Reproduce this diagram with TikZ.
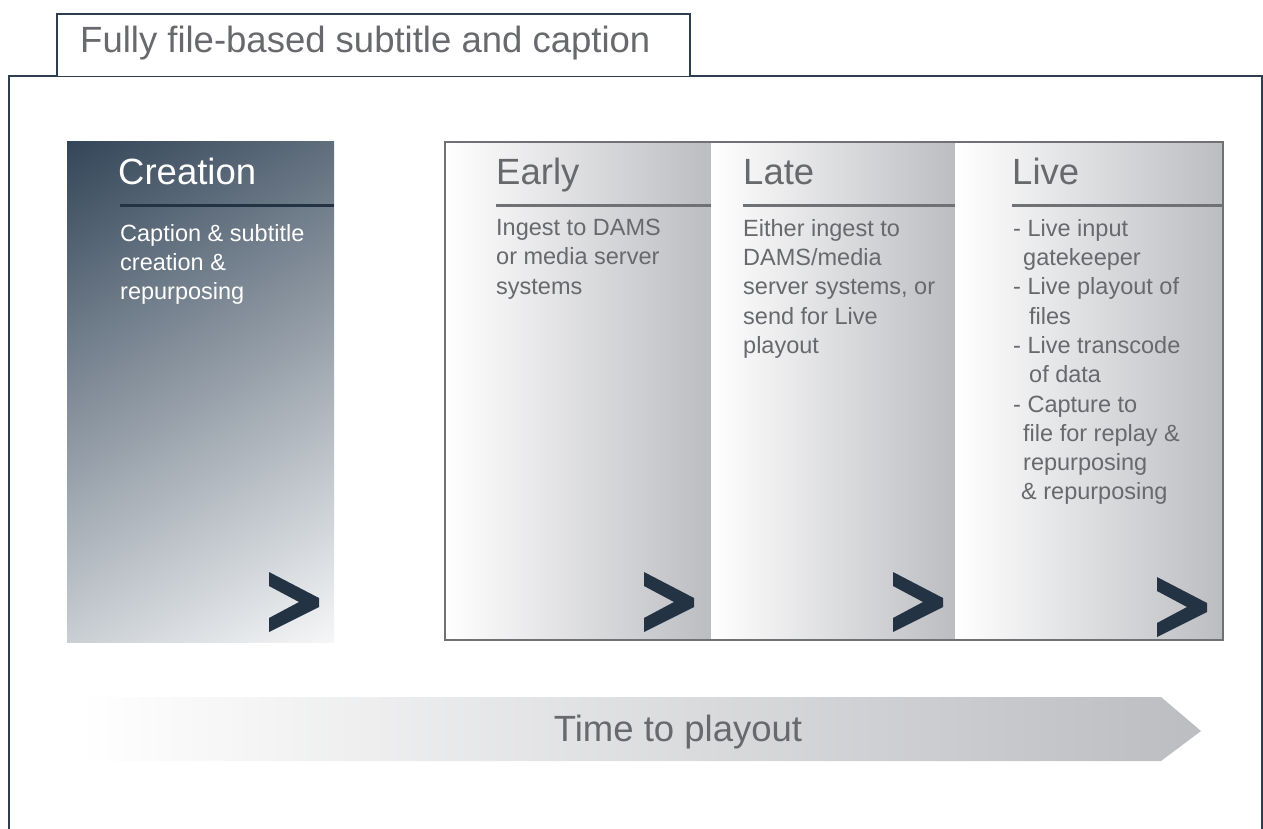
\documentclass[tikz,border=0pt]{standalone}
\usepackage{fontspec}
\setmainfont{Liberation Sans}
\usepackage{tikz}
\usetikzlibrary{shapes,arrows,positioning,calc,fit}
\usepackage{xcolor}

\definecolor{navy}{RGB}{36,51,68}
\definecolor{framecol}{RGB}{46,62,78}
\definecolor{textgray}{RGB}{104,105,109}
\definecolor{colgray}{RGB}{188,189,193}
\definecolor{rulegray}{RGB}{112,113,117}
\definecolor{creatop}{RGB}{52,70,89}
\definecolor{creamid}{RGB}{152,162,172}
\definecolor{creabot}{RGB}{245,246,247}

% chevron, top left corner at (#1,#2)
\newcommand{\chev}[2]{\fill[navy] (#1,#2) -- ++(50,26) -- ++(0,9) -- ++(-50,25) -- ++(0,-14) -- ++(30,-16) -- ++(-30,-16) -- cycle;}

\begin{document}
\begin{tikzpicture}[x=1pt,y=-1pt,
    headtxt/.style={font=\fontsize{36.5}{44}\selectfont, inner sep=0, anchor=base west},
    bodytxt/.style={font=\fontsize{23.5}{29.3}\selectfont, inner sep=0, align=left, anchor=north west, text=textgray}]
    \useasboundingbox (0,0) rectangle (1263,829);

    % Outer frame and title tab
    \draw[framecol, line width=2] (9,835) -- (9,76) -- (1262,76) -- (1262,835);
    \draw[framecol, line width=1.5, fill=white] (57,76) -- (57,14) -- (690,14) -- (690,76);
    \node[headtxt, text=textgray] (title) at (80,53) {Fully file-based subtitle and caption};

    % Creation (diagonal gradient on a square, clipped to the box)
    \begin{scope}
        \clip (67,142) rectangle (334,642);
        \shade[top color=creatop, middle color=creamid, bottom color=creabot, shading angle=29] (-82.5,109) rectangle (483.5,675);
    \end{scope}
    \node[headtxt, text=white] (creation) at (118,185) {Creation};
    \draw[navy, line width=3] (120,206) -- (334,206);
    \node[bodytxt, text=white] (creatxt) at (120,224) {Caption \& subtitle\\creation \&\\repurposing};

    % Early, Late, Live columns
    \foreach \xa/\xb/\xt/\lbl in {445/711/496/Early, 711/955/743/Late, 955/1223/1012/Live} {
        \shade[left color=white, right color=colgray] (\xa,142) rectangle (\xb,640);
        \node[headtxt, text=textgray] (head\lbl) at (\xt,185) {\lbl};
        \draw[rulegray, line width=3] (\xt,206) -- (\xb,206);
    }
    \draw[rulegray, line width=2.5] (445,142) rectangle (1223,640);

    \node[bodytxt] (earlytxt) at (496,219) {Ingest to DAMS\\or media server\\systems};
    \node[bodytxt] (latetxt) at (743,219) {Either ingest to\\DAMS/media\\server systems, or\\send for Live\\playout};
    \node[bodytxt] (livetxt) at (1013,219) {- Live input\\\hspace*{10pt}gatekeeper\\- Live playout of\\\hspace*{16pt}files\\- Live transcode\\\hspace*{16pt}of data\\- Capture to\\\hspace*{10pt}file for replay \&\\\hspace*{10pt}repurposing\\\hspace*{8pt}\& repurposing};

    % Chevrons
    \foreach \cx/\cy in {269/572, 644/572, 893/572, 1157/577} {
        \chev{\cx}{\cy}
    }

    % Time to playout
    \shade[left color=white, right color=colgray] (80,697) -- (1161,697) -- (1201,731) -- (1161,761) -- (80,761) -- cycle;
    \node[headtxt, anchor=base, text=textgray] (time) at (678,741) {Time to playout};
\end{tikzpicture}
\end{document}
